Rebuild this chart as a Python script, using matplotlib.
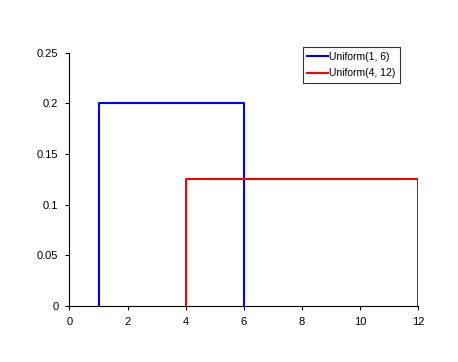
import matplotlib
matplotlib.use('Agg')
import matplotlib.pyplot as plt

plt.rcParams['font.family'] = ['Liberation Sans', 'DejaVu Sans']

# data
x1 = [1, 1, 6, 6]
y1 = [0, 0.2, 0.2, 0]
x2 = [4, 4, 12, 12]
y2 = [0, 0.125, 0.125, 0]
labels = ['Uniform(1, 6)', 'Uniform(4, 12)']
xticks = [0, 2, 4, 6, 8, 10, 12]
yticks = [0, 0.05, 0.1, 0.15, 0.2, 0.25]
ytick_labels = ['0', '0.05', '0.1', '0.15', '0.2', '0.25']

fig = plt.figure(figsize=(4.58, 3.62), dpi=100)
ax = fig.add_axes([0.1517, 0.1547, 0.7610, 0.6997])

ax.plot(x1, y1, color='#0000ff', lw=1.5, label=labels[0])
ax.plot(x2, y2, color='#ff0000', lw=1.5, label=labels[1])

ax.set_xlim(0, 12)
ax.set_ylim(0, 0.25)
ax.set_xticks(xticks)
ax.set_xticklabels([str(t) for t in xticks])
ax.set_yticks(yticks)
ax.set_yticklabels(ytick_labels)
ax.tick_params(labelsize=8, length=3, width=0.8, pad=5, direction='out')
ax.spines['top'].set_visible(False)
ax.spines['right'].set_visible(False)
for s in ('left', 'bottom'):
    ax.spines[s].set_linewidth(0.8)

leg = fig.legend(loc='upper left', bbox_to_anchor=(0.661, 0.869), fontsize=7.5,
                 frameon=True, fancybox=False, handlelength=2.0, handletextpad=0.1,
                 borderpad=0.45, labelspacing=0.6, borderaxespad=0)
leg.get_frame().set_edgecolor('black')
leg.get_frame().set_linewidth(0.8)

fig.savefig('out.png', dpi=100)
